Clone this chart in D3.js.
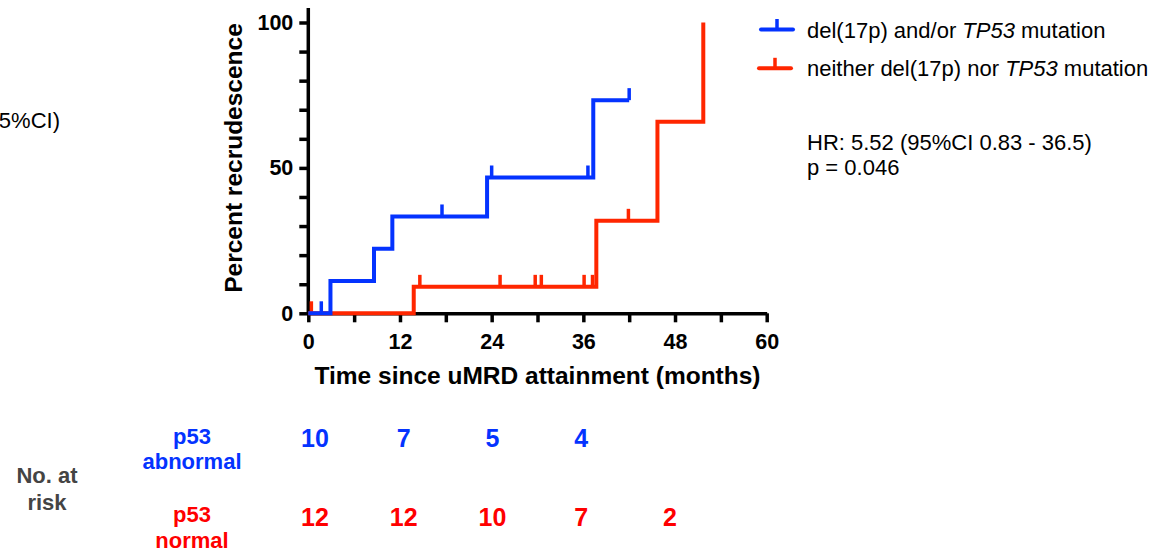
<!DOCTYPE html>
<html>
<head>
<meta charset="utf-8">
<script src="https://d3js.org/d3.v7.min.js"></script>
<style>
body { margin: 0; background: #fff; }
svg text { font-family: "Liberation Sans", Arial, sans-serif; }
</style>
</head>
<body>
<div id="plot"></div>
<script>
// ---- data ----
var blueStepTimes = [0, 2.9, 8.6, 11.0, 23.4, 37.3];
var blueStepValues = [0, 11.1, 22.2, 33.3, 46.7, 73.3];
var blueEnd = 42.0;
var blueCensor = [1.7, 17.5, 24.0, 36.6, 42.0];

var redStepTimes = [0, 13.8, 37.7, 45.7, 51.7];
var redStepValues = [0, 9.1, 31.8, 65.9, 100];
var redEnd = 51.7;
var redCensor = [0.4, 14.6, 25.1, 29.7, 30.5, 36.1, 37.2, 41.9];

var xTicks = [0, 6, 12, 18, 24, 30, 36, 42, 48, 54, 60];
var xLabels = [0, 12, 24, 36, 48, 60];
var yTicks = [0, 10, 20, 30, 40, 50, 60, 70, 80, 90, 100];
var yLabels = [0, 50, 100];

var riskTimes = [0, 12, 24, 36, 48];
var riskAbnormal = [10, 7, 5, 4];
var riskNormal = [12, 12, 10, 7, 2];

var blue = "#0433FF", red = "#FF2600";
var blueTxt = "#0433FF", redTxt = "#FF0000";

var svg = d3.select("#plot").append("svg")
  .attr("width", 1172)
  .attr("height", 552);

var x = d3.scaleLinear().domain([0, 60]).range([308.3, 766.7]);
var y = d3.scaleLinear().domain([0, 100]).range([313.3, 22.5]);
var xRisk = d3.scaleLinear().domain([0, 48]).range([315, 670]);

// x axis
var gx = svg.append("g")
  .attr("transform", "translate(0," + y(0) + ")")
  .call(d3.axisBottom(x).tickValues(xTicks)
    .tickFormat(function(d){ return xLabels.indexOf(d) >= 0 ? String(d) : ""; })
    .tickSize(9).tickSizeOuter(0).tickPadding(11));

// y axis
var gy = svg.append("g")
  .attr("transform", "translate(" + x(0) + ",0)")
  .call(d3.axisLeft(y).tickValues(yTicks)
    .tickFormat(function(d){ return yLabels.indexOf(d) >= 0 ? String(d) : ""; })
    .tickSize(9).tickSizeOuter(0).tickPadding(6));
gy.select(".domain").remove();
gy.append("line")
  .attr("x1", 0).attr("x2", 0)
  .attr("y1", y(105)).attr("y2", y(0) + 1.75)
  .attr("stroke", "#000").attr("stroke-width", 3.5);

[gx, gy].forEach(function(g){
  g.selectAll(".domain, .tick line").attr("stroke", "#000").attr("stroke-width", 3.5);
  g.selectAll(".tick text").attr("fill", "#000")
    .style("font-size", "21.5px").style("font-weight", "bold");
});

// axis titles
svg.append("text")
  .attr("x", x(30)).attr("y", 384)
  .attr("text-anchor", "middle")
  .style("font-size", "24.5px").style("font-weight", "bold")
  .text("Time since uMRD attainment (months)");

svg.append("text")
  .attr("transform", "translate(242,158) rotate(-90)")
  .attr("text-anchor", "middle")
  .style("font-size", "24.5px").style("font-weight", "bold")
  .text("Percent recrudescence");

// curves
var line = d3.line()
  .x(function(d){ return x(d[0]); })
  .y(function(d){ return y(d[1]); })
  .curve(d3.curveStepAfter);

function stepValue(times, values, t) {
  var v = values[0];
  for (var i = 0; i < times.length; i++) if (times[i] <= t) v = values[i];
  return v;
}

function drawCurve(times, values, end, censor, color) {
  var pts = times.map(function(t, i){ return [t, values[i]]; });
  if (end > times[times.length - 1]) pts.push([end, values[values.length - 1]]);
  svg.append("path")
    .attr("d", line(pts))
    .attr("fill", "none")
    .attr("stroke", color)
    .attr("stroke-width", 4)
    .attr("stroke-linejoin", "miter");
  svg.append("g").selectAll("line")
    .data(censor).enter().append("line")
    .attr("x1", function(d){ return x(d); })
    .attr("x2", function(d){ return x(d); })
    .attr("y1", function(d){ return y(stepValue(times, values, d)); })
    .attr("y2", function(d){ return y(stepValue(times, values, d)) - 12; })
    .attr("stroke", color)
    .attr("stroke-width", 3.5);
}

drawCurve(redStepTimes, redStepValues, redEnd, redCensor, red);
drawCurve(blueStepTimes, blueStepValues, blueEnd, blueCensor, blue);

// legend
var legend = [
  { color: blue, y: 29.5, x0: 761, parts: ["del(17p) and/or ", "TP53", " mutation"] },
  { color: red, y: 68.3, x0: 759, parts: ["neither del(17p) nor ", "TP53", " mutation"] }
];
legend.forEach(function(l){
  svg.append("line").attr("x1", l.x0).attr("x2", l.x0 + 32)
    .attr("y1", l.y).attr("y2", l.y)
    .attr("stroke", l.color).attr("stroke-width", 4).attr("stroke-linecap", "round");
  svg.append("line").attr("x1", l.x0 + 16).attr("x2", l.x0 + 16)
    .attr("y1", l.y).attr("y2", l.y - 10.5)
    .attr("stroke", l.color).attr("stroke-width", 3.5);
  var t = svg.append("text").attr("x", 807).attr("y", l.y + 8)
    .style("font-size", "22px").attr("fill", "#000");
  l.parts.forEach(function(p, i){
    t.append("tspan").style("font-style", i === 1 ? "italic" : "normal").text(p);
  });
});

svg.append("text").attr("x", 807).attr("y", 150)
  .style("font-size", "22px").text("HR: 5.52 (95%CI 0.83 - 36.5)");
svg.append("text").attr("x", 807).attr("y", 175)
  .style("font-size", "22px").text("p = 0.046");

// fragment cut by the left edge, as in the source figure
svg.append("text").attr("x", 60).attr("y", 128)
  .attr("text-anchor", "end")
  .style("font-size", "22px").text("(95%CI)");

// number at risk
function boldText(xp, yp, txt, size, color) {
  return svg.append("text")
    .attr("x", xp).attr("y", yp)
    .attr("text-anchor", "middle")
    .style("font-size", size + "px").style("font-weight", "bold")
    .attr("fill", color).text(txt);
}
boldText(47, 483, "No. at", 22, "#444");
boldText(47, 510, "risk", 22, "#444");
boldText(192, 444, "p53", 22, blueTxt);
boldText(192, 469, "abnormal", 22, blueTxt);
boldText(192, 522, "p53", 22, redTxt);
boldText(192, 548, "normal", 22, redTxt);

riskAbnormal.forEach(function(n, i){ boldText(xRisk(riskTimes[i]), 447, n, 25, blueTxt); });
riskNormal.forEach(function(n, i){ boldText(xRisk(riskTimes[i]), 526, n, 25, redTxt); });
</script>
</body>
</html>
